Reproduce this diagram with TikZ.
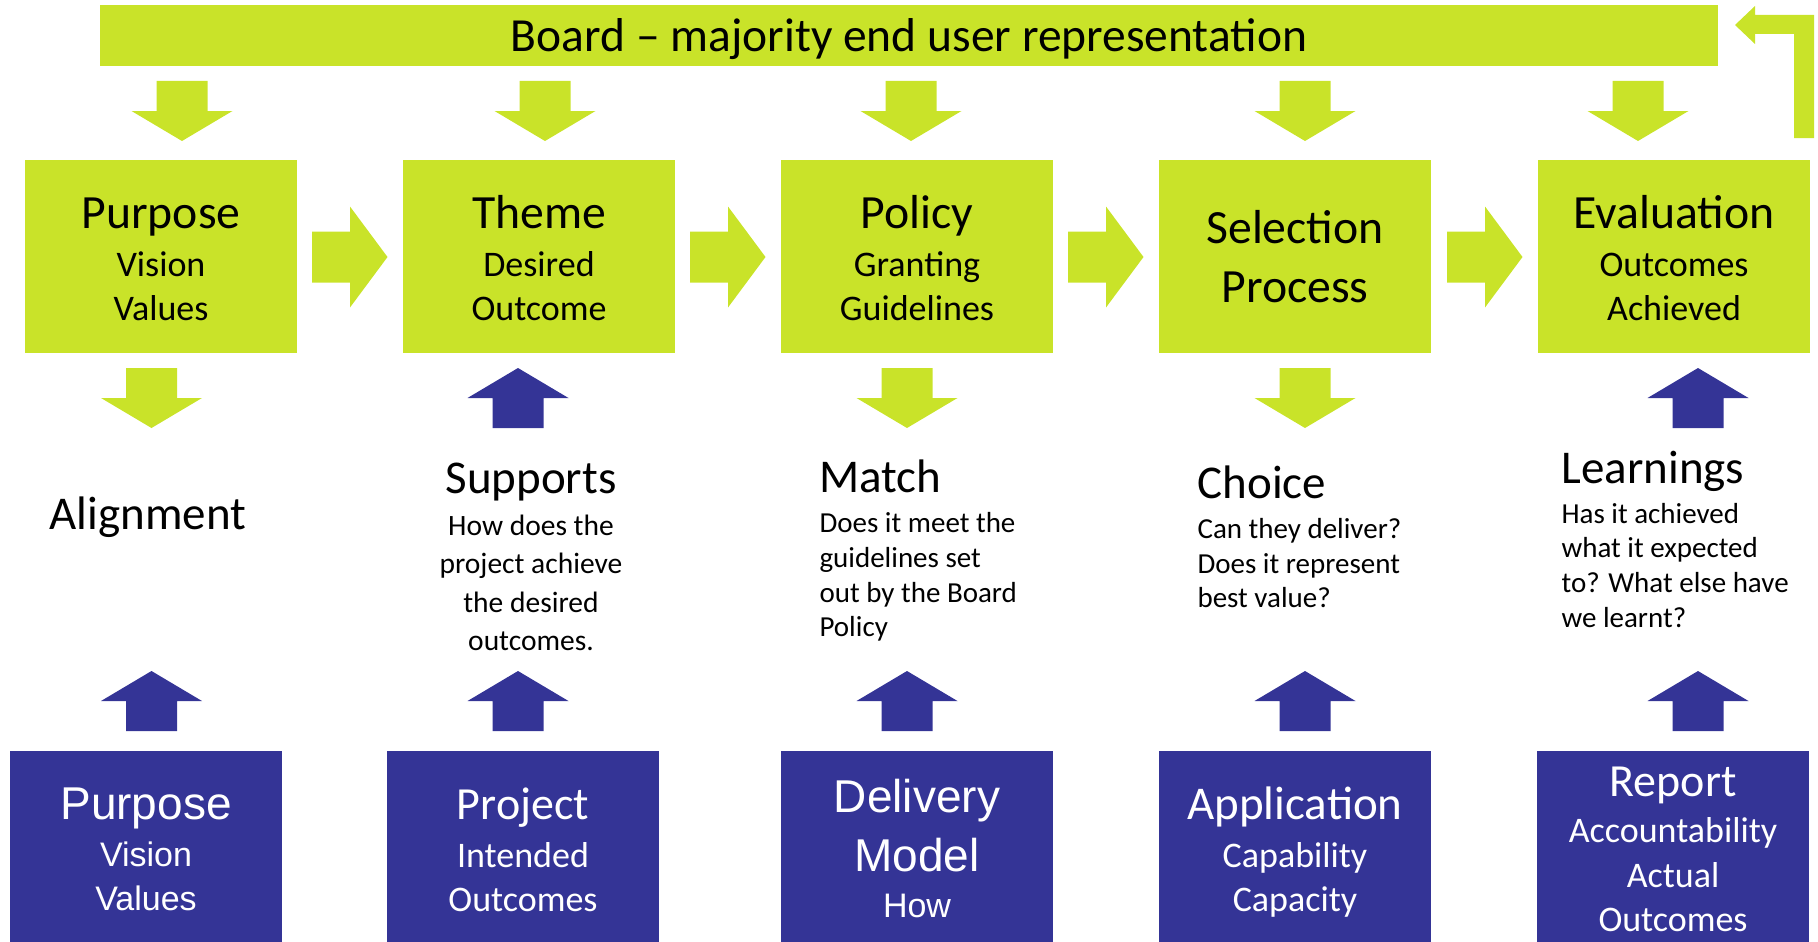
\documentclass[tikz,border=0pt]{standalone}
\usepackage{fontspec}
\setmainfont{Carlito}
\newfontfamily\arialf{Liberation Sans}
\definecolor{lime}{RGB}{201,227,41}
\definecolor{navy}{RGB}{52,52,150}
\newcommand\dnarr[4]{\fill[#4,shift={(#1,#2)}] (-25.5,0) -- (25.5,0) -- (25.5,#3) -- (50.5,#3) -- (0,2*#3) -- (-50.5,#3) -- (-25.5,#3) -- cycle;}
\newcommand\uparr[4]{\fill[#4,shift={(#1,#2)}] (0,0) -- (50.5,#3) -- (25.5,#3) -- (25.5,2*#3) -- (-25.5,2*#3) -- (-25.5,#3) -- (-50.5,#3) -- cycle;}
\newcommand\rtarr[3]{\fill[#3,shift={(#1,#2)}] (0,-25.5) -- (38,-25.5) -- (38,-50.5) -- (75.5,0) -- (38,50.5) -- (38,25.5) -- (0,25.5) -- cycle;}
\begin{document}
\begin{tikzpicture}[x=1pt,y=-1pt,
  box/.style={rectangle, inner sep=0pt, minimum width=272pt},
  gbox/.style={box, fill=lime, minimum height=193pt},
  bbox/.style={box, fill=navy, minimum height=191.3pt},
  gtitle/.style={anchor=base, align=center, font=\fontsize{47.7}{59}\selectfont},
  gsub/.style={anchor=base, align=center, font=\fontsize{36}{44}\selectfont},
  midtitle/.style={anchor=base, font=\fontsize{47}{50}\selectfont},
  midsub/.style={anchor=base west, align=left, font=\fontsize{29}{34.7}\selectfont},
  wtxt/.style={text=white, anchor=base, align=center},
  ]
\useasboundingbox (0,0) rectangle (1818,942);
\clip (0,0) rectangle (1818,942);

% Board bar
\node[rectangle, fill=lime, inner sep=0pt, minimum width=1618pt, minimum height=61pt] (board) at (909,35.5) {};
\node[anchor=base, font=\fontsize{47.5}{55}\selectfont] (boardtxt) at (909,52) {Board -- majority end user representation};

% feedback arrow
\fill[lime] (1794,138) -- (1794,34) -- (1755,34) -- (1755,44) -- (1735,25) -- (1755,6) -- (1755,15) -- (1814,15) -- (1814,138) -- cycle;

% board down arrows
\dnarr{182}{81}{30}{lime}
\dnarr{545}{81}{30}{lime}
\dnarr{911}{81}{30}{lime}
\dnarr{1305}{81}{30}{lime}
\dnarr{1638}{81}{30}{lime}

% green boxes
\node[gbox] (g1) at (161,256.5) {};
\node[gbox] (g2) at (539,256.5) {};
\node[gbox] (g3) at (917,256.5) {};
\node[gbox] (g4) at (1295,256.5) {};
\node[gbox] (g5) at (1674,256.5) {};

\node[gtitle] (g1t) at (161,228) {Purpose};
\node[gsub] (g1s) at (161,320) {Vision\\Values};
\node[gtitle] (g2t) at (539,228) {Theme};
\node[gsub] (g2s) at (539,320) {Desired\\Outcome};
\node[gtitle] (g3t) at (917,228) {Policy};
\node[gsub] (g3s) at (917,320) {Granting\\Guidelines};
\node[gtitle] (g4t) at (1295,302) {Selection\\Process};
\node[gtitle] (g5t) at (1674,228) {Evaluation};
\node[gsub] (g5s) at (1674,320) {Outcomes\\Achieved};

% right arrows
\rtarr{312}{257}{lime}
\rtarr{690}{257}{lime}
\rtarr{1068}{257}{lime}
\rtarr{1447}{257}{lime}

% middle arrows
\dnarr{151.5}{368}{30}{lime}
\uparr{518}{368}{30}{navy}
\dnarr{907}{368}{30}{lime}
\dnarr{1305}{368}{30}{lime}
\uparr{1698}{368}{30}{navy}

\uparr{151.5}{671}{30}{navy}
\uparr{518}{671}{30}{navy}
\uparr{907}{671}{30}{navy}
\uparr{1305}{671}{30}{navy}
\uparr{1698}{671}{30}{navy}

% middle texts
\node[midtitle] (m1) at (148,529) {Alignment};
\node[midtitle] (m2) at (531,493) {Supports};
\node[anchor=base, align=center, font=\fontsize{29.5}{38.5}\selectfont] (m2s) at (531,650.5) {How does the\\project achieve\\the desired\\outcomes.};
\node[midtitle, anchor=base west] (m3) at (816,492.7) {Match};
\node[midsub] (m3s) at (816,636.7) {Does it meet the\\guidelines set\\out by the Board\\Policy};
\node[midtitle, anchor=base west] (m4) at (1194,498.3) {Choice};
\node[midsub] (m4s) at (1194,607.7) {Can they deliver?\\Does it represent\\best value?};
\node[midtitle, anchor=base west] (m5) at (1558,483.3) {Learnings};
\node[midsub] (m5s) at (1558,627.3) {Has it achieved\\what it expected\\to? What else have\\we learnt?};

% blue boxes
\node[bbox] (b1) at (145.5,846.35) {};
\node[bbox] (b2) at (523,846.35) {};
\node[bbox] (b3) at (917,846.35) {};
\node[bbox] (b4) at (1295,846.35) {};
\node[bbox] (b5) at (1673,846.35) {};

\node[wtxt, font=\arialf\fontsize{46}{48}\selectfont] (b1t) at (146,819.3) {Purpose};
\node[wtxt, font=\arialf\fontsize{34}{44}\selectfont] (b1s) at (146,910.7) {Vision\\Values};
\node[wtxt, font=\fontsize{46}{48}\selectfont] (b2t) at (523,819) {Project};
\node[wtxt, font=\fontsize{36}{44}\selectfont] (b2s) at (523,911) {Intended\\Outcomes};
\node[wtxt, font=\arialf\fontsize{46}{59}\selectfont] (b3t) at (917,871) {Delivery\\Model};
\node[wtxt, font=\arialf\fontsize{34}{36}\selectfont] (b3s) at (917,917) {How};
\node[wtxt, font=\fontsize{47}{48}\selectfont] (b4t) at (1295,819) {Application};
\node[wtxt, font=\fontsize{36}{44}\selectfont] (b4s) at (1295,911) {Capability\\Capacity};
\node[wtxt, font=\fontsize{46}{48}\selectfont] (b5t) at (1673,796.7) {Report};
\node[wtxt, font=\fontsize{36}{44.5}\selectfont] (b5s) at (1673,931.7) {Accountability\\Actual\\Outcomes};
\end{tikzpicture}
\end{document}
